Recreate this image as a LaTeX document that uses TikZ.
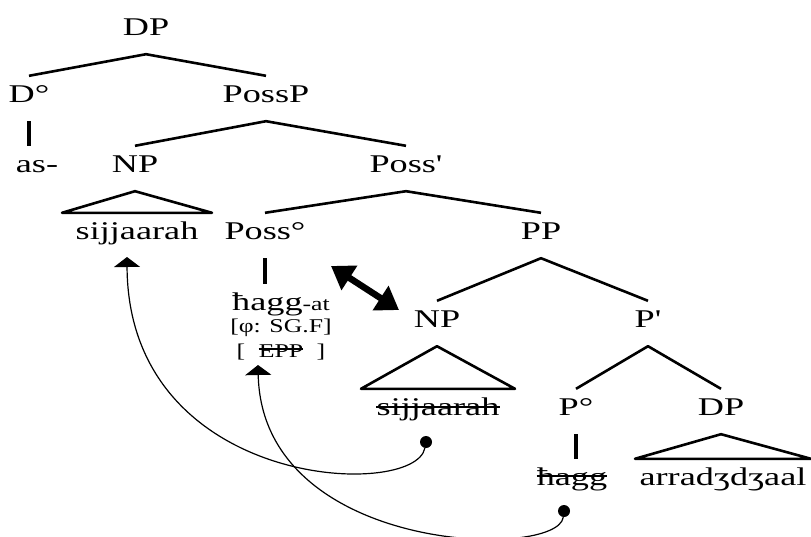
\documentclass[tikz,border=0pt]{standalone}
\usepackage{fontspec}
\setmainfont{Liberation Serif}[FakeStretch=1.42, Ligatures=TeXOff]
\newfontfamily\rasgos{Liberation Serif}[FakeStretch=1.32, Ligatures=TeXOff]
\usepackage{tikz}
\usetikzlibrary{arrows.meta}
\newcommand{\chico}{\rasgos\fontsize{19.5}{22}\selectfont}

\begin{document}
\begin{tikzpicture}[
  x=1pt, y=-1pt,
  font=\fontsize{25.5}{28}\selectfont,
  cat/.style={anchor=base, inner sep=0pt, text height=26pt, text depth=19pt},
  rasgo/.style={anchor=base, inner sep=0pt, font=\chico},
  rama/.style={line width=2.6pt, line join=round},
  barra/.style={line width=4pt},
  tacha/.style={line width=1.5pt},
  punto/.style={circle, fill=black, inner sep=0pt, minimum size=12pt},
  mov/.style={line width=1.2pt, -{Triangle[length=10pt, width=26pt]}},
  cotejo/.style={line width=6.5pt, {Triangle[length=22pt, width=28pt]}-{Triangle[length=22pt, width=28pt]}}
]
\useasboundingbox (0,0) rectangle (811,536);
% Nivel 1-2: DP, D y PossP
\node[cat] (dpA) at (146,35) {DP};
\node[cat] (dcero) at (29,102) {D°};
\node[cat] (possp) at (266,102) {PossP};
\node[cat] (as) at (37,172) {as-};
\node[cat] (npA) at (135,172) {NP};
\node[cat] (possbar) at (406,172) {Poss'};
% Nivel 3: Poss y PP
\node[cat] (sijA) at (137,239) {sijjaarah};
\node[cat] (posscero) at (265,239) {Poss°};
\node[cat] (pp) at (541,239) {PP};
\node[cat] (haggat) at (281,310) {ħagg{\chico-at}};
\node[rasgo] (phi) at (281,332) {[φ: SG.F]};
\node[rasgo] (epp) at (281,357) {EPP};
\node[rasgo] (corA) at (241,357) {[};
\node[rasgo] (corB) at (321,357) {]};
\node[cat] (npB) at (437,327) {NP};
\node[cat] (pbar) at (648,327) {P'};
% Nivel 4: copias y complemento
\node[cat] (sijB) at (438,415) {sijjaarah};
\node[cat] (pcero) at (576,415) {P°};
\node[cat] (dpB) at (721,415) {DP};
\node[cat] (hagg) at (572,485) {ħagg};
\node[cat] (arrad) at (723,485) {arradʒdʒaal};
% Tachados
\draw[tacha] ([yshift=8pt]epp.base west) -- ([yshift=8pt]epp.base east);
\draw[tacha] ([yshift=8pt]sijB.base west) -- ([yshift=8pt]sijB.base east);
\draw[tacha] ([yshift=9pt]hagg.base west) -- ([yshift=9pt]hagg.base east);
% Ramas
\draw[rama] (dcero.north) -- (dpA.south) -- (possp.north);
\draw[rama] (npA.north) -- (possp.south) -- (possbar.north);
\draw[rama] (posscero.north) -- (possbar.south) -- (pp.north);
\draw[rama] (npB.north) -- (pp.south) -- (pbar.north);
\draw[rama] (pcero.north) -- (pbar.south) -- (dpB.north);
\draw[barra] (dcero.south) -- (dcero.south |- as.north);
\draw[barra] (posscero.south) -- (posscero.south |- haggat.north);
\draw[barra] (pcero.south) -- (pcero.south |- hagg.north);
% Triangulos
\draw[rama] (npA.south) -- ([xshift=-75pt]sijA.north) -- ([xshift=75pt]sijA.north) -- cycle;
\draw[rama] (npB.south) -- ([xshift=-77pt]sijB.north) -- ([xshift=77pt]sijB.north) -- cycle;
\draw[rama] (dpB.south) -- ([xshift=-88pt]arrad.north) -- ([xshift=88pt]arrad.north) -- cycle;
% Movimientos y cotejo
\node[punto] (origenA) at (426,442) {};
\node[punto] (origenB) at (564,511) {};
\coordinate (metaA) at (127,257);
\coordinate (metaB) at (258,365);
\coordinate (cotA) at (331,266);
\coordinate (cotB) at (399,310);
\draw[mov] (origenA) .. controls (415,500) and (128,490) .. (metaA);
\draw[mov] (origenB) .. controls (558,560) and (262,555) .. (metaB);
\draw[cotejo] (cotA) -- (cotB);
\end{tikzpicture}
\end{document}
